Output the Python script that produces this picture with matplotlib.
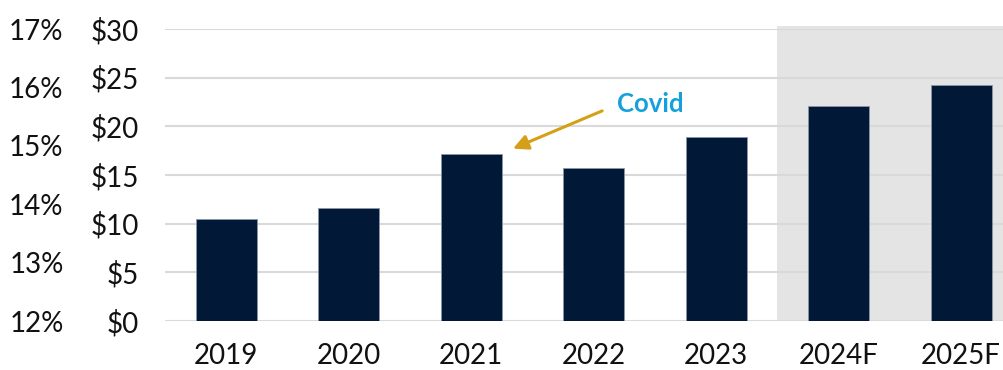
import matplotlib.pyplot as plt
import numpy as np

years = ['2019', '2020', '2021', '2022', '2023', '2024F', '2025F']
revenue = [10.5, 11.6, 17.2, 15.75, 18.9, 22.1, 24.2]
dollar_ticks = [0, 5, 10, 15, 20, 25, 30]
pct_ticks = [12, 13, 14, 15, 16, 17]

navy = '#011836'
grid_c = '#d9d9d9'
shade_c = '#e4e4e4'

plt.rcParams['font.family'] = ['Lato', 'DejaVu Sans']

fig = plt.figure(figsize=(10.04, 3.70), dpi=100)
ax = fig.add_axes([165 / 1004, 49 / 370, 839 / 1004, 292 / 370])

x = np.arange(len(years))
ax.axvspan(4.5, 7, ymin=0, ymax=30.3 / 30, color=shade_c, zorder=0,
           clip_on=False, lw=0)
ax.bar(x, revenue, width=0.5, color=navy, edgecolor='#8a96a8',
       linewidth=0.6, zorder=3)

ax.set_xlim(-0.5, 6.35)
ax.set_ylim(0, 30)
ax.set_yticks(dollar_ticks)
ax.set_yticklabels([f'${v}' for v in dollar_ticks])
ax.set_xticks(x)
ax.set_xticklabels(years)
ax.yaxis.grid(True, color=grid_c, lw=1.5, zorder=1)
ax.set_axisbelow(True)
for s in ax.spines.values():
    s.set_visible(False)
ax.tick_params(axis='y', length=0, pad=19, labelsize=20, labelcolor='#111111')
ax.tick_params(axis='x', length=0, pad=16, labelsize=20, labelcolor='#111111')

# percentage scale drawn as a second y axis on the far left
ax2 = ax.twinx()
ax2.yaxis.set_label_position('left')
ax2.yaxis.tick_left()
ax2.set_ylim(12, 17)
ax2.set_yticks(pct_ticks)
ax2.set_yticklabels([f'{v}%' for v in pct_ticks])
ax2.tick_params(axis='y', length=0, pad=73, labelsize=20, labelcolor='#111111')
for s in ax2.spines.values():
    s.set_visible(False)

ax.annotate('', xy=(2.32, 17.6), xytext=(3.09, 21.7),
            arrowprops=dict(arrowstyle='-|>,head_length=0.9,head_width=0.45',
                            color='#d4a017', lw=2.2), zorder=5)
ax.text(3.19, 22.3, 'Covid', color='#15a0db', fontsize=18.5, fontweight='bold',
        ha='left', va='center', zorder=5)

fig.savefig('out.png', dpi=100)
